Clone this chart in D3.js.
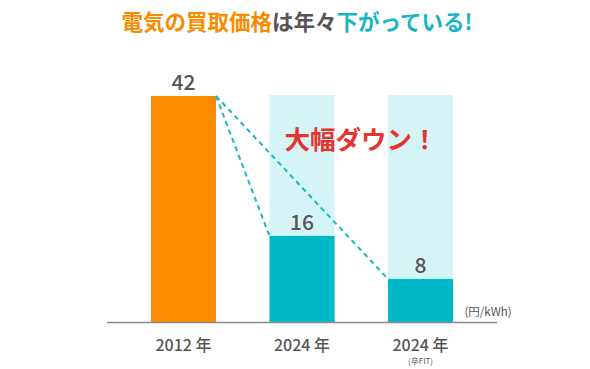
<!DOCTYPE html>
<html><head><meta charset="utf-8">
<script src="https://cdn.jsdelivr.net/npm/d3@7"></script>
<style>body{margin:0;background:#fff}svg{display:block}</style>
</head><body>
<svg id="c" width="590" height="369"></svg>
<script>
const categories = ["2012 年", "2024 年", "2024 年"];
const subLabels = ["", "", "(卒FIT)"];
const values = [42, 16, 8];
const refMax = 42;
const unitLabel = "(円/kWh)";
const annotation = "大幅ダウン！";
const titleParts = [["電気の買取価格", "#f98b00"], ["は年々", "#555"], ["下がっている!", "#15b5c2"]];

const font = "'Noto Sans CJK JP','Noto Sans',sans-serif";
const svg = d3.select("#c");
const baseY = 322, topY = 96;
const x = d3.scaleBand().domain(d3.range(categories.length)).range([107, 497]).paddingInner(0.451).paddingOuter(0.371);
const y = d3.scaleLinear().domain([0, refMax]).range([baseY, topY]);
const colors = ["#fb8c00", "#00b8c8", "#00b8c8"];

// title
const t = svg.append("text").attr("x", 297).attr("y", 30).attr("text-anchor", "middle")
  .attr("font-family", font).attr("font-weight", "bold").attr("font-size", 21.5);
titleParts.forEach(([s, c]) => t.append("tspan").attr("fill", c).text(s));

// background bars
svg.selectAll(".bg").data(values.slice(1)).join("rect")
  .attr("x", (d, i) => x(i + 1)).attr("width", x.bandwidth())
  .attr("y", y(refMax) - 1).attr("height", baseY - y(refMax) + 1).attr("fill", "#d4f4f6");

// bars
svg.selectAll(".bar").data(values).join("rect")
  .attr("x", (d, i) => x(i)).attr("width", x.bandwidth())
  .attr("y", d => y(d)).attr("height", d => baseY - y(d)).attr("fill", (d, i) => colors[i]);

// dashed lines
[1, 2].forEach(i => {
  svg.append("line").attr("x1", x(0) + x.bandwidth()).attr("y1", y(values[0]))
    .attr("x2", x(i)).attr("y2", y(values[i]))
    .attr("stroke", "#19b9c6").attr("stroke-width", 2).attr("stroke-dasharray", "5,4");
});

// axis line
svg.append("line").attr("x1", 107).attr("x2", 497).attr("y1", baseY + 0.5).attr("y2", baseY + 0.5)
  .attr("stroke", "#8a8a8a").attr("stroke-width", 1.5);

// value labels
svg.selectAll(".vl").data(values).join("text")
  .attr("x", (d, i) => x(i) + x.bandwidth() / 2)
  .attr("y", d => y(d) - 6)
  .attr("text-anchor", "middle").attr("font-family", font).attr("font-size", 21).attr("font-weight", 500)
  .attr("fill", "#555").text(d => d);

// category labels
svg.selectAll(".cl").data(categories).join("text")
  .attr("x", (d, i) => x(i) + x.bandwidth() / 2).attr("y", 351)
  .attr("text-anchor", "middle").attr("font-family", font).attr("font-size", 16).attr("font-weight", 500)
  .attr("fill", "#555").text(d => d);
svg.selectAll(".sl").data(subLabels).join("text")
  .attr("x", (d, i) => x(i) + x.bandwidth() / 2).attr("y", 364)
  .attr("text-anchor", "middle").attr("font-family", font).attr("font-size", 8)
  .attr("fill", "#555").text(d => d);

// unit
svg.append("text").attr("x", 488).attr("y", 316).attr("text-anchor", "middle")
  .attr("font-family", font).attr("font-size", 11.5).attr("fill", "#555").text(unitLabel);

// annotation
svg.append("text").attr("x", 361).attr("y", 149).attr("text-anchor", "middle")
  .attr("font-family", font).attr("font-weight", "bold").attr("font-size", 25.5)
  .attr("fill", "#e8322e").text(annotation);
</script>
</body></html>
